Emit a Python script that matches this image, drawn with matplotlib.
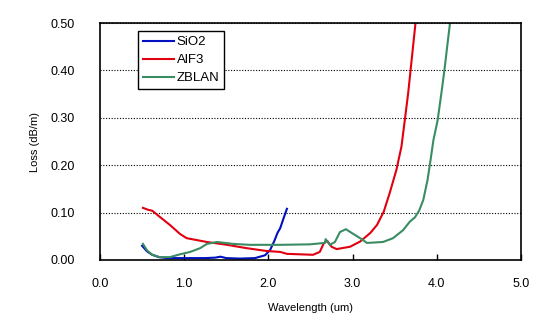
import matplotlib.pyplot as plt

# wavelength (um) / loss (dB/m)
sio2_x = [0.50, 0.56, 0.62, 0.70, 0.80, 0.95, 1.10, 1.25, 1.37, 1.43, 1.50,
          1.66, 1.84, 1.96, 2.02, 2.07, 2.11, 2.14, 2.18, 2.22]
sio2_y = [0.030, 0.018, 0.011, 0.006, 0.004, 0.004, 0.004, 0.004, 0.005, 0.007, 0.004,
          0.003, 0.004, 0.010, 0.021, 0.040, 0.058, 0.067, 0.088, 0.108]

alf3_x = [0.51, 0.57, 0.62, 0.71, 0.83, 0.95, 1.03, 1.15, 1.27, 1.51, 1.74, 1.98,
          2.14, 2.22, 2.53, 2.61, 2.66, 2.70, 2.75, 2.81, 2.97, 3.09, 3.21,
          3.29, 3.37, 3.44, 3.52, 3.58, 3.62, 3.66, 3.70, 3.75]
alf3_y = [0.110, 0.106, 0.104, 0.091, 0.074, 0.055, 0.046, 0.042, 0.038, 0.032, 0.025, 0.019,
          0.017, 0.013, 0.011, 0.017, 0.036, 0.040, 0.028, 0.023, 0.028, 0.039, 0.057,
          0.074, 0.102, 0.141, 0.190, 0.239, 0.295, 0.352, 0.420, 0.505]

zblan_x = [0.51, 0.56, 0.62, 0.71, 0.83, 0.95, 1.07, 1.19, 1.27, 1.39, 1.58, 1.78,
           2.14, 2.49, 2.67, 2.68, 2.73, 2.79, 2.85, 2.92, 2.99, 3.09, 3.17, 3.36,
           3.48, 3.60, 3.68, 3.74, 3.79, 3.84, 3.89, 3.92, 3.96, 4.01, 4.06, 4.09, 4.16]
zblan_y = [0.034, 0.020, 0.011, 0.006, 0.006, 0.012, 0.017, 0.025, 0.034, 0.038, 0.034, 0.032,
           0.032, 0.033, 0.036, 0.044, 0.032, 0.038, 0.059, 0.065, 0.057, 0.046, 0.036, 0.038,
           0.046, 0.063, 0.081, 0.090, 0.104, 0.127, 0.169, 0.204, 0.253, 0.295, 0.359, 0.400, 0.505]

plt.rcParams['font.family'] = ['Liberation Sans', 'DejaVu Sans']

fig = plt.figure(figsize=(5.44, 3.24), dpi=100)
ax = fig.add_axes([100 / 544, 64 / 324, 421 / 544, 237 / 324])

ax.plot(sio2_x, sio2_y, color='#0010c0', lw=1.5, label='SiO2')
ax.plot(alf3_x, alf3_y, color='#e00010', lw=1.5, label='AlF3')
ax.plot(zblan_x, zblan_y, color='#3a8c62', lw=1.5, label='ZBLAN')

ax.set_xlim(0, 5)
ax.set_ylim(0, 0.5)
ax.set_xticks([0, 1, 2, 3, 4, 5])
ax.set_xticklabels(['0.0', '1.0', '2.0', '3.0', '4.0', '5.0'])
ax.set_yticks([0, 0.1, 0.2, 0.3, 0.4, 0.5])
ax.set_yticklabels(['0.00', '0.10', '0.20', '0.30', '0.40', '0.50'])
ax.tick_params(axis='x', direction='in', length=4, width=1, pad=13, labelsize=9)
ax.tick_params(axis='y', length=0, pad=18, labelsize=9)
ax.yaxis.grid(True, color='black', linestyle=(0, (1, 1.5)), lw=0.8)
for s in ax.spines.values():
    s.set_linewidth(1.2)

ax.set_xlabel('Wavelength (um)', fontsize=8, labelpad=9)
ax.set_ylabel('Loss (dB/m)', fontsize=8, labelpad=8)

leg = ax.legend(loc='upper left', bbox_to_anchor=(0.09, 0.965), fontsize=9.5,
                frameon=True, fancybox=False, edgecolor='black', framealpha=1,
                handlelength=2.4, handletextpad=0.2, borderpad=0.35, labelspacing=0.45,
                borderaxespad=0)
leg.get_frame().set_linewidth(1)

fig.savefig('out.png', dpi=100)
